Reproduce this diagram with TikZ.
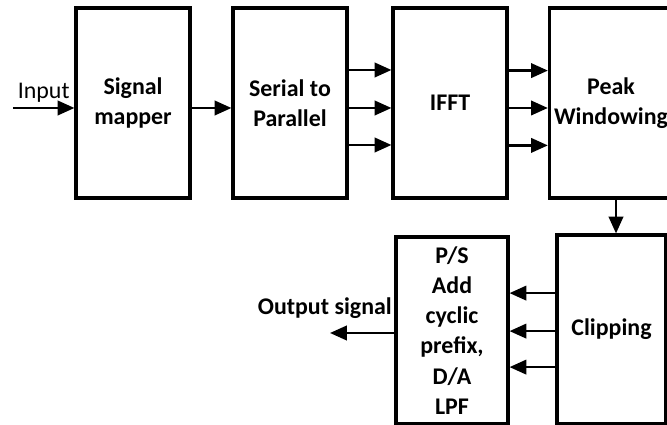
\documentclass[tikz,border=0pt]{standalone}
\usepackage{fontspec}
\setmainfont{Carlito}
\usetikzlibrary{arrows.meta}

\tikzset{
  blk/.style={draw, line width=2.2pt, minimum width=2.85cm, minimum height=4.75cm,
    align=center, font=\bfseries\fontsize{17}{21.5}\selectfont},
  arr/.style={line width=1.8pt, -{Triangle[length=0.42cm,width=0.36cm]}}
}

\begin{document}
\begin{tikzpicture}
\useasboundingbox (0,0) rectangle (16.675,10.625);

% top row
\node[blk] (map) at (3.325,8.05) {Signal\\mapper};
\node[blk] (sp) at (7.25,8.05) {Serial to\\Parallel};
\node[blk] (ifft) at (11.25,8.05) {IFFT};
\node[blk, minimum width=2.75cm] (peak) at (15.275,8.05) {Peak\\Windowing};

% bottom row
\node[blk, minimum width=2.725cm, minimum height=4.725cm] (clip) at (15.2875,2.3875) {Clipping};
\node[blk, minimum width=2.8cm, minimum height=4.675cm] (ps) at (11.3,2.3625)
  {P/S\\Add\\cyclic\\prefix,\\D/A\\LPF};

% input
\coordinate (in) at (0.325,7.925);
\draw[arr] (in) -- (in -| map.west)
  node[midway, above, font=\fontsize{17}{21.5}\selectfont] (inlbl) {Input};

\draw[arr] ([yshift=-0.125cm]map.east) -- ([yshift=-0.125cm]sp.west);

\foreach \dy in {0.825,-0.125,-1.05}
  \draw[arr] ([yshift=\dy cm]sp.east) -- ([yshift=\dy cm]ifft.west);
\foreach \dy in {0.81,-0.125,-1.06}
  \draw[arr] ([yshift=\dy cm]ifft.east) -- ([yshift=\dy cm]peak.west);

\draw[arr] ([xshift=0.125cm]peak.south) -- ([xshift=0.125cm]peak.south |- clip.north);

\foreach \dy in {0.91,-0.04,-0.94}
  \draw[arr] ([yshift=\dy cm]clip.west) -- ([yshift=\dy cm]clip.west -| ps.east);

% output
\coordinate (out) at (8.25,2.3);
\draw[arr] (out -| ps.west) -- (out);
\node[anchor=base east, inner sep=0pt, font=\bfseries\fontsize{17}{21.5}\selectfont]
  (outlbl) at (9.8,2.75) {Output signal};

\end{tikzpicture}
\end{document}
